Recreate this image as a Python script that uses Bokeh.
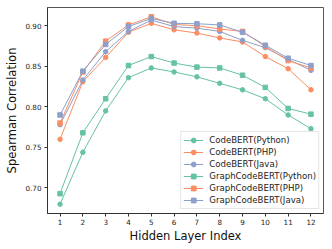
from bokeh.plotting import figure
from bokeh.models import Range1d, FixedTicker, NumeralTickFormatter, Legend, LegendItem
from bokeh.embed import file_html
from bokeh.resources import INLINE

layers = [1, 2, 3, 4, 5, 6, 7, 8, 9, 10, 11, 12]

codebert_python = [0.680, 0.744, 0.795, 0.836, 0.848, 0.843, 0.837, 0.829, 0.821, 0.810, 0.790, 0.773]
codebert_php = [0.760, 0.831, 0.861, 0.892, 0.903, 0.895, 0.891, 0.885, 0.880, 0.862, 0.847, 0.821]
codebert_java = [0.778, 0.833, 0.868, 0.893, 0.907, 0.899, 0.897, 0.893, 0.882, 0.873, 0.8585, 0.845]
graph_python = [0.693, 0.768, 0.810, 0.851, 0.862, 0.854, 0.849, 0.848, 0.839, 0.824, 0.798, 0.791]
graph_php = [0.780, 0.843, 0.881, 0.901, 0.911, 0.9016, 0.900, 0.896, 0.893, 0.8745, 0.857, 0.848]
graph_java = [0.790, 0.844, 0.877, 0.899, 0.909, 0.903, 0.9025, 0.901, 0.892, 0.876, 0.860, 0.851]

series_names = ["CodeBERT(Python)", "CodeBERT(PHP)", "CodeBERT(Java)",
                "GraphCodeBERT(Python)", "GraphCodeBERT(PHP)", "GraphCodeBERT(Java)"]
series_values = [codebert_python, codebert_php, codebert_java, graph_python, graph_php, graph_java]
series_colors = ["#66c2a5", "#fc8d62", "#8da0cb", "#66c2a5", "#fc8d62", "#8da0cb"]
series_markers = ["circle", "circle", "circle", "square", "square", "square"]

y_ticks = [0.70, 0.75, 0.80, 0.85, 0.90]

p = figure(width=332, height=249, output_backend="svg", toolbar_location=None,
           x_range=Range1d(0.45, 12.55), y_range=Range1d(0.6685, 0.9225),
           min_border_left=47, min_border_right=9, min_border_top=7, min_border_bottom=36)
p.xgrid.visible = False
p.ygrid.visible = False
p.outline_line_color = "#555555"
p.outline_line_width = 1

font = "DejaVu Sans"
for ax in (p.xaxis[0], p.yaxis[0]):
    ax.axis_line_color = "#333333"
    ax.major_tick_line_color = "#333333"
    ax.minor_tick_line_color = None
    ax.major_tick_in = 0
    ax.major_tick_out = 3
    ax.major_label_text_font = font
    ax.major_label_text_font_size = "7.2px"
    ax.major_label_text_color = "#222222"
    ax.axis_label_text_font = font
    ax.axis_label_text_font_size = "11.5px"
    ax.axis_label_text_font_style = "normal"
    ax.axis_label_text_color = "#111111"

p.xaxis.ticker = FixedTicker(ticks=layers)
p.yaxis.ticker = FixedTicker(ticks=y_ticks)
p.yaxis.formatter = NumeralTickFormatter(format="0.00")
p.xaxis.axis_label = "Hidden Layer Index"
p.yaxis.axis_label = "Spearman Correlation"
p.xaxis.major_label_standoff = 2
p.yaxis.major_label_standoff = 3
p.xaxis.axis_label_standoff = 1
p.yaxis.axis_label_standoff = 3

items = []
for name, vals, col, mk in zip(series_names, series_values, series_colors, series_markers):
    r1 = p.line(layers, vals, line_color=col, line_width=1)
    r2 = p.scatter(layers, vals, marker=mk, size=4.5, fill_color=col, line_color=col)
    items.append(LegendItem(label=name, renderers=[r1, r2]))

legend = Legend(items=items, location="bottom_right")
legend.margin = 4
legend.padding = 2
legend.spacing = 0
legend.glyph_width = 20
legend.glyph_height = 12
legend.label_height = 12
legend.label_standoff = 6
legend.label_text_font = font
legend.label_text_font_size = "8.6px"
legend.label_text_color = "#222222"
legend.border_line_color = "#cccccc"
legend.border_line_width = 1
legend.background_fill_alpha = 0.85
p.add_layout(legend)

open("out.html", "w").write(file_html(p, INLINE))
